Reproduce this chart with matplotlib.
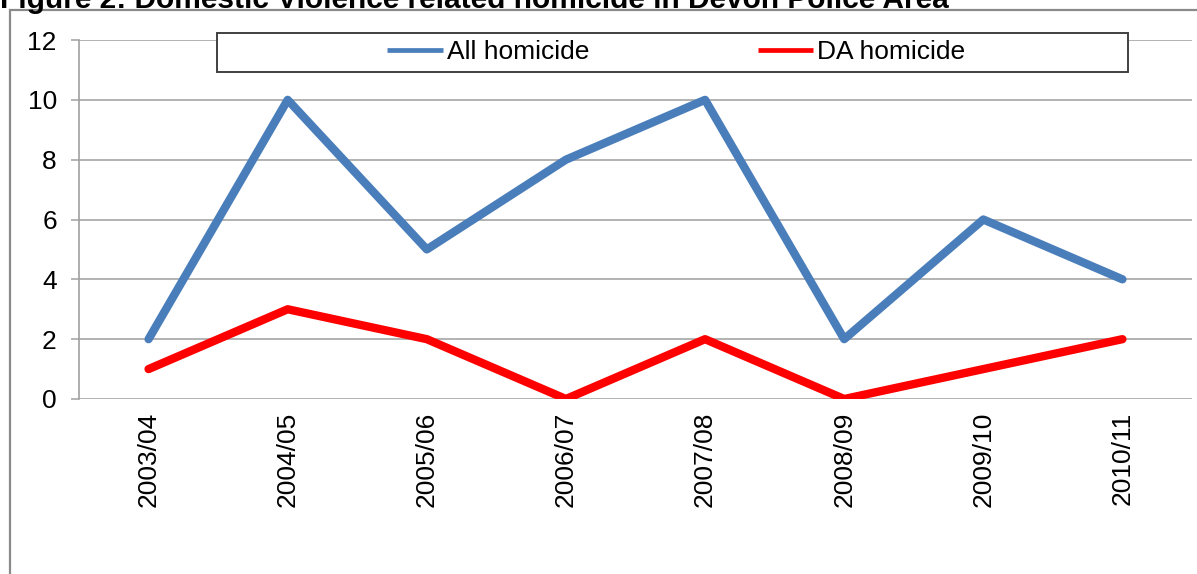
import matplotlib
matplotlib.use("Agg")
import matplotlib.pyplot as plt
from matplotlib.patches import Rectangle
import numpy as np

categories = ["2003/04", "2004/05", "2005/06", "2006/07", "2007/08", "2008/09", "2009/10", "2010/11"]
all_homicide = [2, 10, 5, 8, 10, 2, 6, 4]
da_homicide = [1, 3, 2, 0, 2, 0, 1, 2]
yticks = [0, 2, 4, 6, 8, 10, 12]
title = "Figure 2: Domestic Violence related homicide in Devon Police Area"

plt.rcParams["font.family"] = ["Liberation Sans", "DejaVu Sans"]

W, H = 1197, 574
fig = plt.figure(figsize=(W / 100, H / 100), dpi=100)
fig.patch.set_facecolor("white")

ax = fig.add_axes([79 / W, 1 - 399 / H, (1192 - 79) / W, (399 - 40) / H])

x = np.arange(len(categories))
ax.plot(x, all_homicide, color="#4a7ebb", lw=6, solid_capstyle="round",
        solid_joinstyle="round", label="All homicide", zorder=3)
ax.plot(x, da_homicide, color="#ff0000", lw=6, solid_capstyle="round",
        solid_joinstyle="round", label="DA homicide", zorder=3)

ax.set_xlim(-0.5, len(categories) - 0.5)
ax.set_ylim(0, 12)
ax.set_yticks(yticks)
ax.set_xticks(x)
ax.set_xticklabels(categories, rotation=90, fontsize=19, va="top", ha="center")
ax.tick_params(axis="y", labelsize=19, length=6, width=1.1, color="#a0a0a0", pad=10)
ax.tick_params(axis="x", length=0, pad=9)
ax.grid(axis="y", color="#a6a6a6", lw=1.2)
ax.set_axisbelow(True)
for s in ["top", "right", "bottom"]:
    ax.spines[s].set_visible(False)
ax.spines["left"].set_color("#a0a0a0")
ax.spines["left"].set_linewidth(1.2)

# legend box
fig.add_artist(Rectangle((217 / W, 1 - 72 / H), (1128 - 217) / W, (72 - 33) / H,
                         transform=fig.transFigure, facecolor="white",
                         edgecolor="#404040", lw=1.4, zorder=4))
leg = fig.legend(loc="center", bbox_to_anchor=((386 + 967) / 2 / W, 1 - 52 / H),
                 ncol=2, frameon=False, fontsize=19, handlelength=2.1,
                 handletextpad=0.15, columnspacing=6.4, borderpad=0)
leg.set_zorder(5)
for line in leg.get_lines():
    line.set_linewidth(3.4)
    line.set_solid_capstyle("butt")

# outer frame
fig.add_artist(Rectangle((10 / W, -0.5), 2.0, (1 - 10 / H) + 0.5,
                         transform=fig.transFigure, facecolor="none",
                         edgecolor="#8a8a8a", lw=1.6, zorder=1))

fig.text(0.0, 1 - 8 / H, title, fontsize=21.5, fontweight="bold", ha="left", va="baseline")

fig.savefig("out.png", dpi=100)
